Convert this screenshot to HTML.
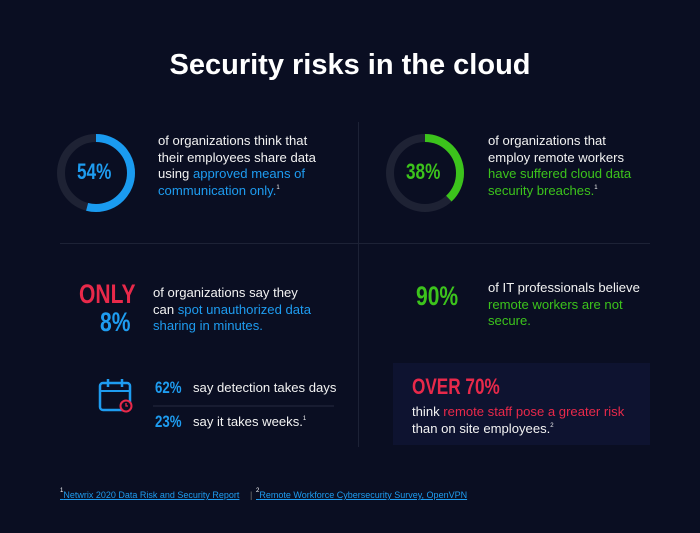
<!DOCTYPE html>
<html><head><meta charset="utf-8"><style>
body{margin:0;width:700px;height:533px;background:#0a0e22;font-family:"Liberation Sans",sans-serif;color:#fff;position:relative;overflow:hidden}
.a{position:absolute}
.t{font-size:13.1px;line-height:16.5px;color:#f2f2f2}
.b{color:#1e9cf0}.g{color:#3cc31c}.r{color:#e8294a}
.n{font-family:"Liberation Sans Narrow","Liberation Sans",sans-serif;font-weight:bold;transform:scaleX(.78);transform-origin:left}
sup{font-size:6px;line-height:0;vertical-align:6px}
</style></head><body>
<div class="a" style="left:0;width:700px;top:49px;text-align:center;font-size:29px;font-weight:bold">Security risks in the cloud</div>
<div class="a" style="left:358px;top:122px;width:1px;height:325px;background:#1d2236"></div>
<div class="a" style="left:60px;top:243px;width:590px;height:1px;background:#1d2236"></div>
<svg class="a" style="left:0;top:0" width="700" height="533">
<circle cx="96" cy="173" r="35" fill="none" stroke="#1e2234" stroke-width="8"/>
<circle cx="96" cy="173" r="35" fill="none" stroke="#1a9bf0" stroke-width="8" stroke-dasharray="118.8 300" transform="rotate(-90 96 173)"/>
<circle cx="425" cy="173" r="35" fill="none" stroke="#1e2234" stroke-width="8"/>
<circle cx="425" cy="173" r="35" fill="none" stroke="#3cc31c" stroke-width="8" stroke-dasharray="83.6 300" transform="rotate(-90 425 173)"/>
<rect x="100" y="383" width="30" height="27" rx="3" fill="none" stroke="#1e9cf0" stroke-width="2.5"/>
<line x1="100" y1="391" x2="130" y2="391" stroke="#1e9cf0" stroke-width="2"/>
<line x1="108" y1="379" x2="108" y2="387" stroke="#1e9cf0" stroke-width="2.5"/>
<line x1="122" y1="379" x2="122" y2="387" stroke="#1e9cf0" stroke-width="2.5"/>
<circle cx="126" cy="406" r="5.5" fill="#0a0e22" stroke="#e8294a" stroke-width="2"/>
<path d="M126 403v3h2" stroke="#e8294a" stroke-width="1.3" fill="none"/>
<line x1="153" y1="406" x2="334" y2="406" stroke="#262b40" stroke-width="1"/>
<rect x="393" y="363" width="257" height="82" fill="#0e1330"/>
</svg>
<div class="a n b" style="left:77px;top:159px;font-size:22px">54%</div>
<div class="a n g" style="left:406px;top:159px;font-size:22px">38%</div>
<div class="a t" style="left:158px;top:133px">of organizations think that<br>their employees share data<br>using <span class="b">approved means of<br>communication only.</span><sup>1</sup></div>
<div class="a t" style="left:488px;top:133px">of organizations that<br>employ remote workers<br><span class="g">have suffered cloud data<br>security breaches.</span><sup>1</sup></div>
<div class="a n r" style="left:79px;top:279px;font-size:27px">ONLY</div>
<div class="a n b" style="left:100px;top:307px;font-size:27px">8%</div>
<div class="a t" style="left:153px;top:285px">of organizations say they<br>can <span class="b">spot unauthorized data<br>sharing in minutes.</span></div>
<div class="a n g" style="left:416px;top:281px;font-size:27px">90%</div>
<div class="a t" style="left:488px;top:280px">of IT professionals believe<br><span class="g">remote workers are not<br>secure.</span></div>
<div class="a n b" style="left:155px;top:378px;font-size:17px">62%</div>
<div class="a t" style="left:193px;top:380px">say detection takes days</div>
<div class="a n b" style="left:155px;top:412px;font-size:17px">23%</div>
<div class="a t" style="left:193px;top:414px">say it takes weeks.<sup>1</sup></div>
<div class="a n r" style="left:412px;top:374px;font-size:22px">OVER 70%</div>
<div class="a t" style="left:412px;top:404px">think <span class="r">remote staff pose a greater risk</span><br>than on site employees.<sup>2</sup></div>
<div class="a" style="left:60px;top:490px;font-size:9px;color:#1e9cf0;text-decoration:underline"><sup style="color:#fff">1</sup>Netwrix 2020 Data Risk and Security Report</div>
<div class="a" style="left:250px;top:490px;font-size:9px;color:#777">|</div>
<div class="a" style="left:256px;top:490px;font-size:9px;color:#1e9cf0;text-decoration:underline"><sup style="color:#fff">2</sup>Remote Workforce Cybersecurity Survey, OpenVPN</div>
</body></html>
